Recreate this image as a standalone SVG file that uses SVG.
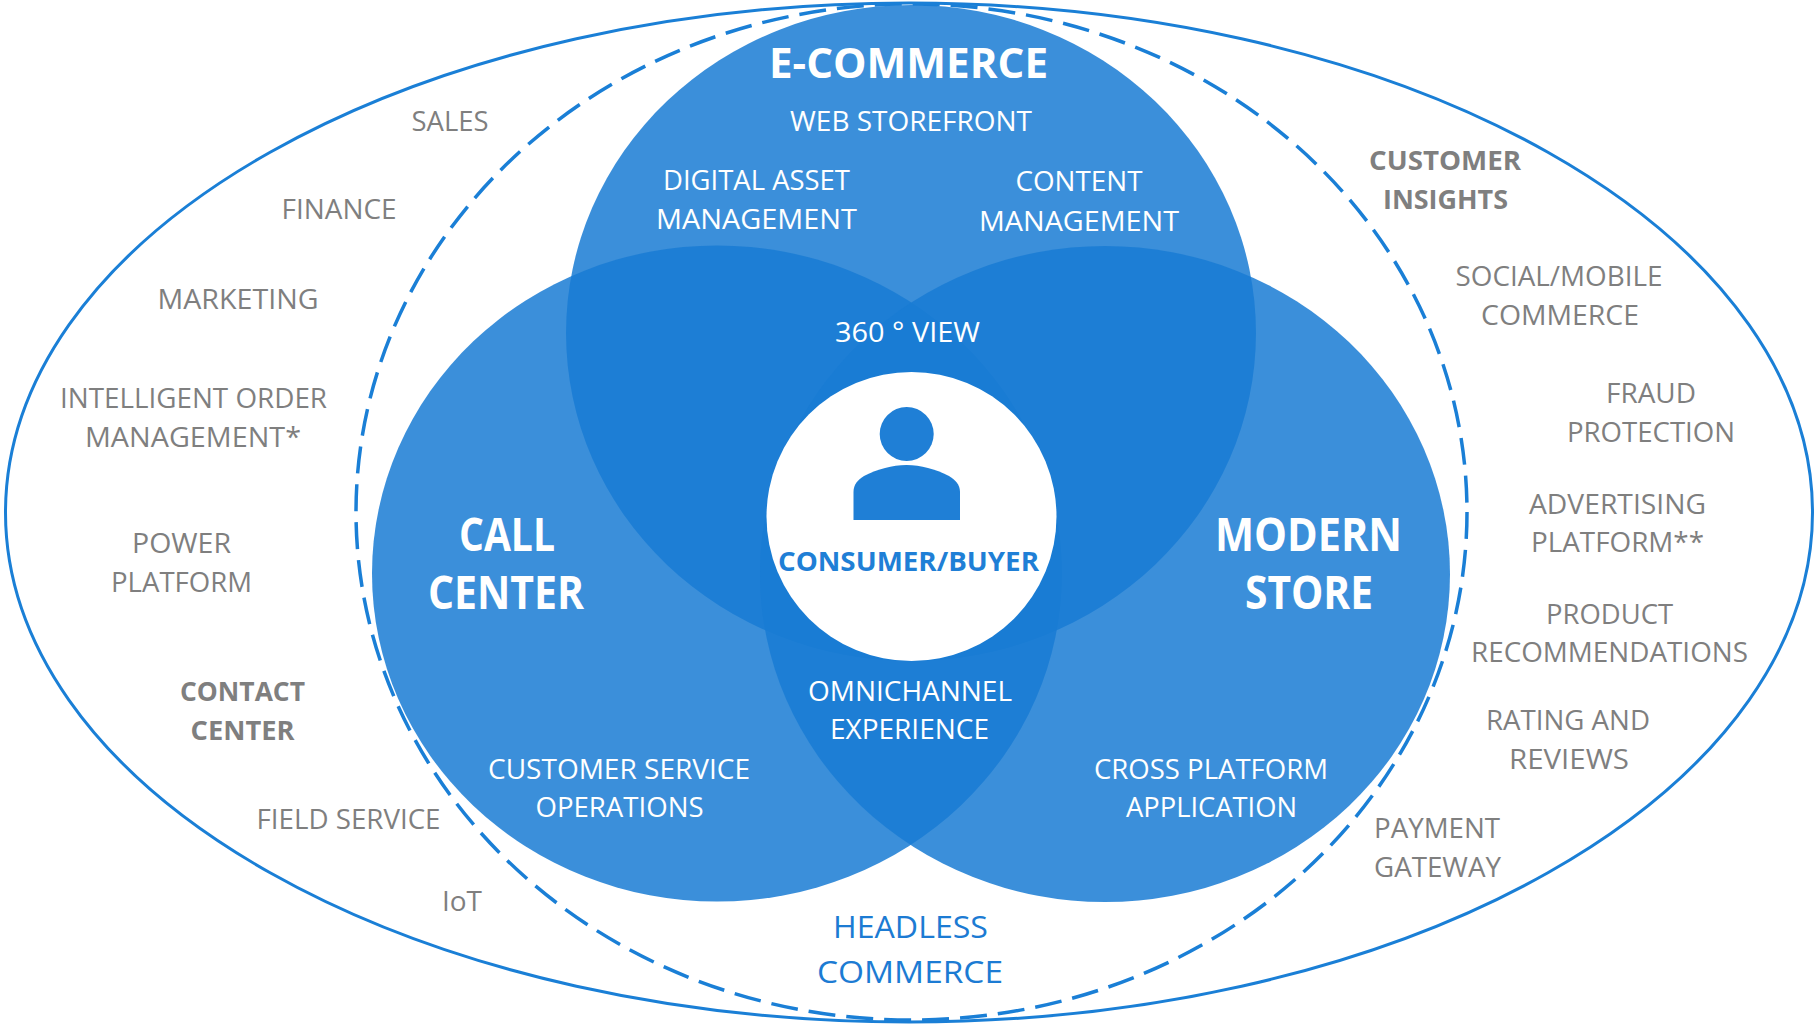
<svg xmlns="http://www.w3.org/2000/svg" width="1814" height="1024" viewBox="0 0 1814 1024">
<style>
text{font-family:"Open Sans","Noto Sans","Liberation Sans",sans-serif;font-size:27px;fill:#7f7f7f}
.w{fill:#fff}
.b{font-weight:700}
.h{font-size:42px}
.t{font-size:46px}
.u{fill:#1c7bd3}
.hl{font-size:31px}
.lobe{fill:#197bd4;fill-opacity:.85}
</style>
<rect width="1814" height="1024" fill="#fff"/>
<g id="connectors">
<ellipse id="outer-boundary" cx="909" cy="512.5" rx="903.5" ry="509.5" fill="none" stroke="#1a7fd6" stroke-width="3"/>
<ellipse id="headless-boundary" cx="911.5" cy="512" rx="555.5" ry="508" fill="none" stroke="#1a7fd6" stroke-width="3.5" stroke-dasharray="27 11"/>
</g>
<g id="ecommerce"><ellipse class="lobe" cx="911" cy="333" rx="345" ry="328"/></g>
<g id="callcenter"><ellipse class="lobe" cx="717" cy="573.5" rx="345" ry="328"/></g>
<g id="modernstore"><ellipse class="lobe" cx="1105" cy="574" rx="345" ry="328"/></g>
<g id="consumer">
<ellipse cx="911.5" cy="516.5" rx="145" ry="144.5" fill="#fff"/>
<circle cx="906.7" cy="434" r="27" fill="#1f7fd6"/>
<path d="M853.5 520V492C853.5 484 858 480 864 476C878 469 892 465 906.5 465C921 465 935 469 949 476C955 480 960 484 960 492V520Z" fill="#1f7fd6"/>
<text class="b u" x="778" y="571" textLength="261" lengthAdjust="spacingAndGlyphs" style="fill:#1f7fd6">CONSUMER/BUYER</text>
</g>
<g id="label-ecommerce"><text class="w b h" x="769" y="78" textLength="279" lengthAdjust="spacingAndGlyphs">E-COMMERCE</text></g>
<g id="label-web"><text class="w" x="790" y="131" textLength="242" lengthAdjust="spacingAndGlyphs">WEB STOREFRONT</text></g>
<g id="label-dam"><text class="w" x="663" y="190" textLength="187" lengthAdjust="spacingAndGlyphs">DIGITAL ASSET</text><text class="w" x="656" y="229" textLength="201" lengthAdjust="spacingAndGlyphs">MANAGEMENT</text></g>
<g id="label-cm"><text class="w" x="1015.500" y="191" textLength="127" lengthAdjust="spacingAndGlyphs">CONTENT</text><text class="w" x="979" y="231" textLength="200" lengthAdjust="spacingAndGlyphs">MANAGEMENT</text></g>
<g id="label-360"><text class="w" x="835" y="342" textLength="145" lengthAdjust="spacingAndGlyphs">360 ° VIEW</text></g>
<g id="label-omni"><text class="w" x="808" y="701" textLength="204" lengthAdjust="spacingAndGlyphs">OMNICHANNEL</text><text class="w" x="830" y="739" textLength="159" lengthAdjust="spacingAndGlyphs">EXPERIENCE</text></g>
<g id="label-cso"><text class="w" x="488" y="779" textLength="262" lengthAdjust="spacingAndGlyphs">CUSTOMER SERVICE</text><text class="w" x="535.500" y="817" textLength="168" lengthAdjust="spacingAndGlyphs">OPERATIONS</text></g>
<g id="label-cpa"><text class="w" x="1094" y="779" textLength="234" lengthAdjust="spacingAndGlyphs">CROSS PLATFORM</text><text class="w" x="1126" y="817" textLength="171" lengthAdjust="spacingAndGlyphs">APPLICATION</text></g>
<g id="label-call"><text class="w b t" x="459" y="551" textLength="96" lengthAdjust="spacingAndGlyphs">CALL</text><text class="w b t" x="428" y="609" textLength="156" lengthAdjust="spacingAndGlyphs">CENTER</text></g>
<g id="label-store"><text class="w b t" x="1215" y="551" textLength="187" lengthAdjust="spacingAndGlyphs">MODERN</text><text class="w b t" x="1245" y="609" textLength="128" lengthAdjust="spacingAndGlyphs">STORE</text></g>
<g id="label-headless"><text class="u hl" x="833" y="938" textLength="155" lengthAdjust="spacingAndGlyphs">HEADLESS</text><text class="u hl" x="817" y="983" textLength="186" lengthAdjust="spacingAndGlyphs">COMMERCE</text></g>
<g id="sales"><text x="411.500" y="131" textLength="77" lengthAdjust="spacingAndGlyphs">SALES</text></g>
<g id="finance"><text x="281.500" y="219" textLength="115" lengthAdjust="spacingAndGlyphs">FINANCE</text></g>
<g id="marketing"><text x="157.500" y="308.500" textLength="161" lengthAdjust="spacingAndGlyphs">MARKETING</text></g>
<g id="iom"><text x="60" y="408" textLength="267" lengthAdjust="spacingAndGlyphs">INTELLIGENT ORDER</text><text x="85" y="447" textLength="216" lengthAdjust="spacingAndGlyphs">MANAGEMENT*</text></g>
<g id="power"><text x="132" y="553" textLength="99" lengthAdjust="spacingAndGlyphs">POWER</text><text x="111" y="592" textLength="141" lengthAdjust="spacingAndGlyphs">PLATFORM</text></g>
<g id="contact"><text class="b" x="180" y="701" textLength="125" lengthAdjust="spacingAndGlyphs">CONTACT</text><text class="b" x="190.500" y="740" textLength="104" lengthAdjust="spacingAndGlyphs">CENTER</text></g>
<g id="field"><text x="256.500" y="829" textLength="184" lengthAdjust="spacingAndGlyphs">FIELD SERVICE</text></g>
<g id="iot"><text x="442" y="911" textLength="40" lengthAdjust="spacingAndGlyphs">IoT</text></g>
<g id="insights"><text class="b" x="1369" y="170" textLength="152" lengthAdjust="spacingAndGlyphs">CUSTOMER</text><text class="b" x="1383" y="209" textLength="125" lengthAdjust="spacingAndGlyphs">INSIGHTS</text></g>
<g id="social"><text x="1455.500" y="286" textLength="207" lengthAdjust="spacingAndGlyphs">SOCIAL/MOBILE</text><text x="1481" y="325" textLength="158" lengthAdjust="spacingAndGlyphs">COMMERCE</text></g>
<g id="fraud"><text x="1606" y="403" textLength="90" lengthAdjust="spacingAndGlyphs">FRAUD</text><text x="1567" y="441.500" textLength="168" lengthAdjust="spacingAndGlyphs">PROTECTION</text></g>
<g id="ads"><text x="1529" y="514" textLength="177" lengthAdjust="spacingAndGlyphs">ADVERTISING</text><text x="1531" y="552" textLength="173" lengthAdjust="spacingAndGlyphs">PLATFORM**</text></g>
<g id="reco"><text x="1546" y="624" textLength="127" lengthAdjust="spacingAndGlyphs">PRODUCT</text><text x="1471" y="662" textLength="277" lengthAdjust="spacingAndGlyphs">RECOMMENDATIONS</text></g>
<g id="rating"><text x="1486" y="730" textLength="164" lengthAdjust="spacingAndGlyphs">RATING AND</text><text x="1509" y="769" textLength="120" lengthAdjust="spacingAndGlyphs">REVIEWS</text></g>
<g id="payment"><text x="1374" y="838" textLength="126" lengthAdjust="spacingAndGlyphs">PAYMENT</text><text x="1374" y="877" textLength="127" lengthAdjust="spacingAndGlyphs">GATEWAY</text></g>
</svg>
